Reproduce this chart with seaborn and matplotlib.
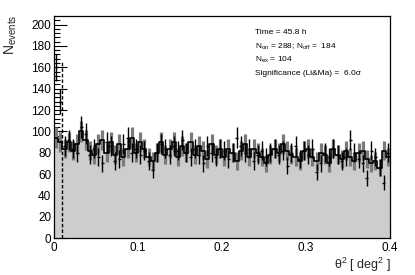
import numpy as np
import pandas as pd
import matplotlib
matplotlib.use("Agg")
import matplotlib.pyplot as plt
import seaborn as sns

# ---- data ----
bin_width = 0.005
theta2_range = (0.0, 0.4)
theta2_centers = np.round(np.arange(0.0025, 0.4, 0.005), 4)

on_counts = [160, 128, 86, 92, 84, 80, 104, 98, 78, 84,
             76, 70, 90, 86, 72, 74, 88, 94, 80, 84,
             78, 82, 72, 64, 80, 88, 84, 78, 86, 82,
             92, 80, 76, 84, 78, 70, 86, 80, 76, 84,
             82, 74, 80, 94, 86, 80, 84, 72, 78, 82,
             76, 80, 84, 78, 82, 68, 80, 86, 74, 82,
             78, 84, 62, 70, 80, 76, 84, 78, 72, 76,
             92, 80, 74, 70, 56, 82, 76, 66, 52, 80]

off_counts = [94, 90, 84, 90, 82, 88, 100, 92, 82, 78,
              88, 92, 80, 90, 78, 88, 76, 84, 94, 80,
              90, 84, 76, 72, 80, 90, 78, 84, 90, 76,
              86, 80, 90, 78, 86, 82, 74, 88, 78, 84,
              76, 84, 80, 72, 82, 88, 76, 84, 80, 76,
              70, 78, 84, 80, 88, 82, 78, 76, 72, 82,
              84, 76, 72, 80, 78, 70, 84, 78, 74, 82,
              76, 72, 80, 82, 74, 70, 72, 66, 82, 76]

theta2_cut = 0.01
info_lines = ["Time = 45.8 h",
              r"N$_{\rm on}$ = 288; N$_{\rm off}$ =  184",
              r"N$_{\rm ex}$ = 104",
              "Significance (Li&Ma) =  6.0σ"]
x_ticks = [0, 0.1, 0.2, 0.3, 0.4]
x_ticklabels = ["0", "0.1", "0.2", "0.3", "0.4"]
y_ticks = [0, 20, 40, 60, 80, 100, 120, 140, 160, 180, 200]

# ---- style ----
sns.set_theme(style="ticks")
plt.rcParams['font.family'] = ['Liberation Sans', 'DejaVu Sans']
plt.rcParams['mathtext.fontset'] = 'custom'
plt.rcParams['mathtext.rm'] = 'Liberation Sans'
plt.rcParams['mathtext.it'] = 'Liberation Sans:italic'
plt.rcParams['mathtext.bf'] = 'Liberation Sans:bold'

fig = plt.figure(figsize=(4.15, 2.75), dpi=100)
ax = fig.add_axes([54/415, 1-238.3/275, (390-54)/415, (238.3-16)/275])

df = pd.DataFrame({"theta2": theta2_centers,
                   "off": np.array(off_counts, dtype=float),
                   "on": np.array(on_counts, dtype=float)})

# OFF histogram: grey fill
sns.histplot(data=df, x="theta2", weights="off", binwidth=bin_width,
             binrange=theta2_range, element="step",
             fill=True, color="#cdcdcd", alpha=1.0, linewidth=0,
             ax=ax, zorder=1)

# OFF errors (grey bars)
ax.errorbar(df["theta2"], df["off"], yerr=np.sqrt(df["off"]), fmt="none",
            ecolor="#7a7a7a", elinewidth=2.3, capsize=0, zorder=3)

# OFF histogram black step outline on top
sns.histplot(data=df, x="theta2", weights="off", binwidth=bin_width,
             binrange=theta2_range, element="step",
             fill=False, color="black", linewidth=1.2, ax=ax, zorder=4)

# ON points (black crosses)
ax.errorbar(df["theta2"], df["on"], yerr=np.sqrt(df["on"]), xerr=0.0018,
            fmt="none", ecolor="black", elinewidth=1.0, capsize=0, zorder=5)

# theta^2 cut line
ax.vlines(theta2_cut, 0, 165, colors="black", linestyles=(0, (2.5, 1.5)),
          linewidth=1.0, zorder=6)

ax.set_xlim(*theta2_range)
ax.set_ylim(0, 208)
ax.set_xticks(x_ticks)
ax.set_xticklabels(x_ticklabels)
ax.set_yticks(y_ticks)
ax.set_xticks(np.arange(0, 0.4001, 0.02), minor=True)
ax.set_yticks(np.arange(0, 208, 4), minor=True)
ax.tick_params(axis="both", which="both", direction="in", labelsize=8.5,
               colors="black", top=False, right=False)
ax.tick_params(axis="y", which="major", length=9, width=0.8, pad=2)
ax.tick_params(axis="y", which="minor", length=4.5, width=0.8)
ax.tick_params(axis="x", which="major", length=6, width=0.8, pad=3)
ax.tick_params(axis="x", which="minor", length=3, width=0.8)
for s in ax.spines.values():
    s.set_visible(True)
    s.set_linewidth(0.9)
    s.set_color("black")
ax.set_xlabel("")
ax.set_ylabel("")

# info text
for i, line in enumerate(info_lines):
    fig.text(255/415, 1 - (33 + 13.5*i)/275, line, fontsize=6, ha="left",
             va="center", color="black")

fig.text(11/415, 1 - 14/275, r"N$_{\rm events}$", rotation=90, fontsize=10,
         ha="center", va="top")
fig.text(391/415, 1 - 265/275, r"θ$^{2}$ [ deg$^{2}$ ]", fontsize=9,
         ha="right", va="center")

fig.savefig("out.png", dpi=100, facecolor="white")
